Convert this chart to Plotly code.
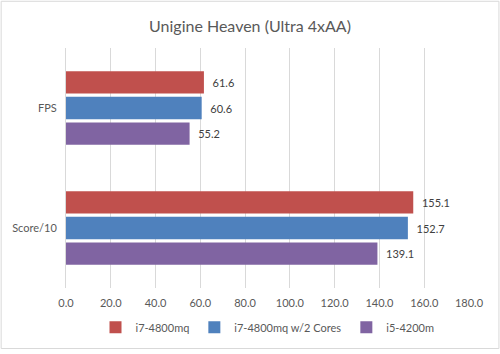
import plotly.graph_objects as go

categories = ["FPS", "Score/10"]
series_names = ["i7-4800mq", "i7-4800mq w/2 Cores", "i5-4200m"]
i7_4800mq = [61.6, 155.1]
i7_4800mq_2c = [60.6, 152.7]
i5_4200m = [55.2, 139.1]
colors = ["#C0504D", "#4F81BD", "#8064A2"]
tick_vals = [0, 20, 40, 60, 80, 100, 120, 140, 160, 180]

W, H = 500, 354
L, R, T, B = 65.5, 30.5, 48, 62

fig = go.Figure()
for name, vals, c in zip(series_names, [i7_4800mq, i7_4800mq_2c, i5_4200m], colors):
    fig.add_trace(go.Bar(
        y=categories, x=vals, name=name, orientation="h",
        marker=dict(color=c, line=dict(width=0)),
        text=["\u00a0\u00a0" + f"{v:.1f}" for v in vals], textposition="outside",
        textfont=dict(family="Lato, sans-serif", size=11, color="#404040"),
        cliponaxis=False,
    ))

pw = W - L - R
ph = H - T - B
fig.update_layout(
    width=W, height=H,
    margin=dict(l=L, r=R, t=T, b=B),
    paper_bgcolor="white", plot_bgcolor="white",
    barmode="group", bargap=0.36, bargroupgap=0.13,
    title=dict(text="Unigine Heaven (Ultra 4xAA)", x=0.5, xanchor="center",
               y=1 - 26 / H, yanchor="middle",
               font=dict(family="Lato, sans-serif", size=16, color="#595959")),
    xaxis=dict(range=[0, 180], tickvals=tick_vals,
               ticktext=[f"{v:.1f}" for v in tick_vals],
               showgrid=True, gridcolor="#D9D9D9", gridwidth=1,
               zeroline=False, showline=False, ticks="",
               ticklabelstandoff=7,
               tickfont=dict(family="Lato, sans-serif", size=11, color="#595959")),
    yaxis=dict(autorange="reversed", showgrid=False, zeroline=False,
               showline=True, linecolor="#D9D9D9", linewidth=1, ticks="",
               ticklabelstandoff=6,
               tickfont=dict(family="Lato, sans-serif", size=11, color="#595959")),
    legend=dict(orientation="h", x=0.5, xanchor="center", y=-(332 - 292) / ph,
                yanchor="middle", traceorder="normal",
                font=dict(family="Lato, sans-serif", size=11, color="#595959"),
                itemwidth=30, entrywidthmode="pixels"),
    shapes=[dict(type="rect", xref="paper", yref="paper",
                 x0=-(L - 0.5) / pw, x1=(pw + R - 0.5) / pw,
                 y0=-(B - 0.5) / ph, y1=(ph + T - 0.5) / ph,
                 line=dict(color="#D9D9D9", width=1), layer="below")],
)
fig.write_html("out.html")
